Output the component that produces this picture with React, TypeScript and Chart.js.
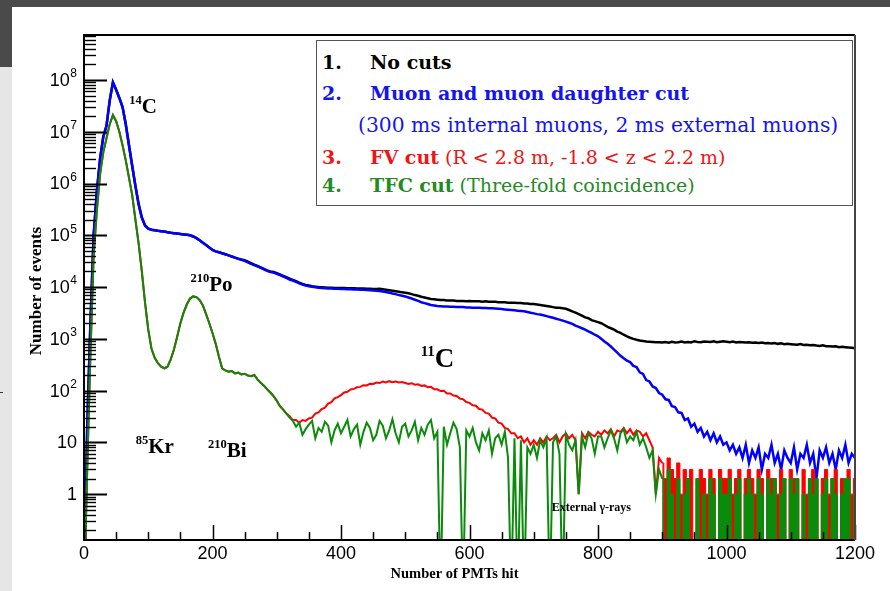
import React, { useEffect, useRef } from "react";
import { Chart, registerables } from "chart.js";

Chart.register(...registerables);

// ---------- data ----------
// histogram bins: number of PMTs hit (bin width 5)
const bins: number[] = Array.from({ length: 241 }, (_, i) => i * 5);

const noCuts = [
  0, 20, 2000, 100000, 700000, 3e6, 8e6, 1.3e7, 4e7, 9e7, 6.5e7, 4.5e7, 3e7, 1.4e7, 5.5e6, 2.2e6, 9e5, 4e5, 2.2e5, 1.55e5,
  1.35e5, 1.28e5, 1.25e5, 1.22e5, 1.2e5, 1.18e5, 1.15e5, 1.12e5, 1.1e5, 1.08e5, 1.06e5, 1.04e5, 1.02e5, 1e5, 9.5e4, 8.8e4, 8e4, 7.2e4, 6.5e4, 5.8e4,
  5.2e4, 4.9e4, 4.7e4, 4.5e4, 4.3e4, 4.1e4, 3.9e4, 3.7e4, 3.55e4, 3.4e4, 3.3e4, 3.1e4, 2.9e4, 2.7e4, 2.55e4, 2.4e4, 2.25e4, 2.1e4, 2e4, 1.95e4,
  1.85e4, 1.75e4, 1.65e4, 1.55e4, 1.45e4, 1.38e4, 1.3e4, 1.22e4, 1.15e4, 1.1e4, 1.07e4, 1.04e4, 1.02e4, 1e4, 9.9e3, 9.8e3, 9.7e3, 9.7e3, 9.6e3, 9.6e3,
  9.6e3, 9.6e3, 9.5e3, 9.5e3, 9.5e3, 9.4e3, 9.4e3, 9.4e3, 9.3e3, 9.3e3, 9.2e3, 9.2e3, 9.3e3, 9.1e3, 8.9e3, 8.7e3, 8.5e3, 8.3e3, 8.1e3, 7.9e3,
  7.8e3, 7.6e3, 7.3e3, 7e3, 6.8e3, 6.5e3, 6.3e3, 6.1e3, 5.9e3, 5.8e3, 5.7e3, 5.6e3, 5.6e3, 5.5e3, 5.5e3, 5.5e3, 5.4e3, 5.4e3, 5.4e3, 5.3e3,
  5.4e3, 5.3e3, 5.3e3, 5.3e3, 5.2e3, 5.3e3, 5.2e3, 5.2e3, 5.2e3, 5.1e3, 5.1e3, 5.1e3, 5e3, 5e3, 5e3, 4.9e3, 4.9e3, 4.8e3, 4.8e3, 4.7e3,
  4.7e3, 4.6e3, 4.5e3, 4.4e3, 4.3e3, 4.2e3, 4.1e3, 4e3, 4e3, 3.9e3, 3.8e3, 3.6e3, 3.4e3, 3.2e3, 3e3, 2.8e3, 2.6e3, 2.5e3, 2.3e3, 2.2e3,
  2.1e3, 2e3, 1.85e3, 1.7e3, 1.6e3, 1.5e3, 1.38e3, 1.3e3, 1.2e3, 1.12e3, 1.05e3, 1e3, 960, 930, 910, 890, 880, 870, 860, 860,
  850, 870, 840, 880, 850, 860, 890, 850, 870, 850, 900, 870, 860, 890, 880, 870, 900, 860, 880, 900,
  880, 860, 890, 850, 870, 860, 850, 860, 840, 850, 830, 850, 820, 830, 810, 830, 800, 820, 790, 800,
  790, 780, 770, 790, 760, 770, 750, 760, 740, 730, 750, 720, 720, 710, 720, 690, 700, 690, 680, 670,
  660,
];

const muonCut = [
  0, 20, 2000, 100000, 700000, 3e6, 8e6, 1.3e7, 4e7, 9e7, 6.5e7, 4.5e7, 3e7, 1.4e7, 5.5e6, 2.2e6, 9e5, 4e5, 2.2e5, 1.55e5,
  1.35e5, 1.28e5, 1.25e5, 1.22e5, 1.2e5, 1.18e5, 1.15e5, 1.12e5, 1.1e5, 1.08e5, 1.06e5, 1.04e5, 1.02e5, 1e5, 9.5e4, 8.8e4, 8e4, 7.2e4, 6.5e4, 5.8e4,
  5.2e4, 4.9e4, 4.7e4, 4.5e4, 4.3e4, 4.1e4, 3.9e4, 3.7e4, 3.5e4, 3.35e4, 3.2e4, 3e4, 2.8e4, 2.65e4, 2.5e4, 2.35e4, 2.2e4, 2.05e4, 1.95e4, 1.9e4,
  1.8e4, 1.7e4, 1.6e4, 1.5e4, 1.4e4, 1.33e4, 1.26e4, 1.18e4, 1.12e4, 1.07e4, 1.04e4, 1.01e4, 9.9e3, 9.7e3, 9.6e3, 9.5e3, 9.4e3, 9.4e3, 9.3e3, 9.3e3,
  9.2e3, 9.2e3, 9.1e3, 9.1e3, 9e3, 9e3, 8.9e3, 8.9e3, 8.8e3, 8.7e3, 8.6e3, 8.5e3, 8.4e3, 8.2e3, 8e3, 7.8e3, 7.5e3, 7.3e3, 7e3, 6.8e3,
  6.6e3, 6.3e3, 6e3, 5.7e3, 5.4e3, 5.1e3, 4.9e3, 4.7e3, 4.5e3, 4.4e3, 4.3e3, 4.25e3, 4.2e3, 4.2e3, 4.15e3, 4.15e3, 4.1e3, 4.1e3, 4.1e3, 4.05e3,
  4.05e3, 4e3, 4e3, 4e3, 3.95e3, 3.95e3, 3.9e3, 3.9e3, 3.85e3, 3.8e3, 3.75e3, 3.7e3, 3.65e3, 3.6e3, 3.55e3, 3.5e3, 3.45e3, 3.4e3, 3.3e3, 3.2e3,
  3.1e3, 3e3, 2.95e3, 2.85e3, 2.75e3, 2.65e3, 2.55e3, 2.45e3, 2.35e3, 2.25e3, 2.15e3, 2.05e3, 1.95e3, 1.8e3, 1.7e3, 1.6e3, 1.5e3, 1.4e3, 1.3e3, 1.2e3,
  1120, 1000, 890, 800, 710, 620, 540, 470, 420, 380, 355, 300, 285, 225, 210, 160, 150, 120, 112, 90,
  83, 68, 66, 50, 48, 38, 37, 27, 29, 20, 23, 16, 19, 13, 16, 11, 15, 10, 13, 9,
  10, 7, 9, 6, 8, 5, 9, 4, 7, 5, 8, 3, 6, 5, 9, 4, 6, 3, 7, 5,
  4, 8, 3, 6, 5, 9, 4, 6, 2, 7, 5, 8, 4, 6, 3, 7, 5, 9, 4, 6,
  5,
];

const fvCut = [
  0, 3, 500, 40000, 300000, 1.5e6, 4e6, 7.5e6, 1.4e7, 2.1e7, 1.6e7, 1e7, 5.5e6, 2.8e6, 1.3e6, 6e5, 2e5, 7e4, 2e4, 5e3,
  1500, 650, 430, 340, 290, 270, 290, 400, 620, 1100, 2000, 3200, 4600, 6000, 6600, 6400, 5600, 4400, 3000, 2000,
  1300, 800, 450, 270, 245, 232, 238, 215, 222, 205, 212, 196, 190, 200, 165, 142, 125, 106, 92, 78,
  64, 50, 43, 36, 32, 27, 27, 24, 27, 26, 29, 30, 36, 38, 44, 47, 56, 60, 71, 75,
  82, 92, 95, 105, 108, 116, 118, 127, 126, 135, 134, 143, 140, 150, 144, 152, 145, 149, 143, 146,
  140, 134, 139, 130, 133, 123, 126, 116, 118, 106, 106, 98, 99, 88, 88, 80, 79, 70, 68, 60,
  58, 52, 51, 44, 43, 37, 36, 30, 29, 24, 23, 19, 18, 15, 15, 12, 13, 10, 12, 9,
  11, 9, 12, 10, 13, 11, 12, 14, 10, 13, 15, 12, 14, 11, 1, 15, 12, 16, 14, 13,
  16, 14, 17, 15, 18, 13, 17, 16, 19, 15, 18, 14, 17, 16, 13, 15, 11, 8, 1, 5,
  4, 2, 5, 3, 2, 4, 1, 3, 2, 3, 0, 2, 3, 2, 1, 3, 2, 0, 3, 2,
  2, 3, 1, 2, 3, 0, 2, 3, 2, 1, 3, 2, 0, 3, 2, 2, 1, 3, 2, 0,
  3, 2, 2, 0, 3, 1, 2, 3, 2, 0, 2, 3, 1, 2, 3, 0, 2, 2, 3, 1,
  2,
];

const tfcCut = [
  0, 3, 500, 40000, 300000, 1.5e6, 4e6, 7.5e6, 1.4e7, 2.1e7, 1.6e7, 1e7, 5.5e6, 2.8e6, 1.3e6, 6e5, 2e5, 7e4, 2e4, 5e3,
  1500, 650, 430, 340, 290, 270, 290, 400, 620, 1100, 2000, 3200, 4600, 6000, 6600, 6400, 5600, 4400, 3000, 2000,
  1300, 800, 450, 270, 245, 232, 238, 215, 222, 205, 212, 196, 190, 200, 165, 142, 125, 106, 92, 78,
  64, 50, 43, 36, 30, 26, 20, 24, 14, 18, 22, 26, 12, 19, 16, 25, 21, 10, 17, 23,
  15, 20, 27, 13, 18, 22, 9, 16, 24, 19, 11, 14, 26, 21, 12, 17, 28, 15, 10, 20,
  23, 13, 17, 25, 11, 19, 14, 22, 27, 12, 16, 0, 20, 9, 15, 24, 18, 8, 0, 17,
  13, 19, 10, 7, 15, 11, 17, 6, 12, 14, 9, 16, 5, 0, 12, 0, 11, 0, 8, 6,
  9, 5, 11, 8, 12, 0, 10, 13, 6, 0, 14, 9, 7, 11, 1, 13, 8, 15, 12, 6,
  13, 13, 8, 12, 17, 12, 7, 15, 18, 10, 13, 11, 16, 9, 12, 8, 5, 7, 1, 3,
  2, 0, 3, 1, 0, 2, 0, 1, 2, 0, 0, 2, 0, 1, 0, 2, 1, 0, 2, 1,
  1, 2, 0, 1, 2, 0, 1, 2, 1, 0, 2, 1, 0, 2, 1, 2, 0, 1, 2, 0,
  2, 1, 2, 0, 1, 0, 2, 1, 2, 0, 1, 2, 0, 2, 1, 0, 1, 2, 2, 0,
  1,
];

const xTickLabels = [0, 200, 400, 600, 800, 1000, 1200];
const yDecades = [0, 1, 2, 3, 4, 5, 6, 7, 8];

const annotations = [
  { sup: "14", main: "C", x: 90, y: 2.3e7, size: 21, supSize: 12.5 },
  { sup: "210", main: "Po", x: 195, y: 8.5e3, size: 21, supSize: 12.5 },
  { sup: "85", main: "Kr", x: 100, y: 6.2, size: 21, supSize: 12.5 },
  { sup: "210", main: "Bi", x: 222, y: 5.2, size: 21, supSize: 12.5 },
  { sup: "11", main: "C", x: 546, y: 286, size: 27, supSize: 15 },
  { sup: "", main: "External \u03b3-rays", x: 728, y: 0.47, size: 12, supSize: 0 },
];

const legendRows = [
  { num: "1.", bold: "No cuts", rest: "", color: "#000000", top: 62, left: 370, size: 19 },
  { num: "2.", bold: "Muon and muon daughter cut", rest: "", color: "#1414f0", top: 93, left: 370, size: 19 },
  { num: "", bold: "", rest: "(300 ms internal muons, 2 ms external muons)", color: "#1414f0", top: 125, left: 358, size: 20.3 },
  { num: "3.", bold: "FV cut", rest: " (R < 2.8 m, -1.8 < z < 2.2 m)", color: "#f01414", top: 157, left: 370, size: 19 },
  { num: "4.", bold: "TFC cut", rest: " (Three-fold coincidence)", color: "#238b23", top: 185, left: 370, size: 19 },
];

const COLORS = { black: "#000000", blue: "#0000ff", red: "#ff0000", green: "#0b8b0b" };
const LOG_FLOOR = 0.01; // empty bins are drawn below the axis (log scale cannot show 0)
const TAIL_START = 900; // beyond this, sparse bins are drawn as filled histogram columns

const SANS = '"Liberation Sans", Arial, sans-serif';
const SERIF = '"Liberation Serif", "Times New Roman", serif';
const LEGEND_FONT = '"DejaVu Serif", serif';

const rootFrame = {
  id: "rootFrame",
  afterDatasetsDraw(chart: any) {
    const { ctx, chartArea: a, scales } = chart;
    const xs = scales.x;
    const ys = scales.y;
    ctx.save();
    ctx.strokeStyle = "#000";
    // y ticks (major + minor, inside)
    for (let d = -1; d <= 8; d++) {
      for (let k = 1; k <= 9; k++) {
        const v = k * Math.pow(10, d);
        if (v < ys.min || v > ys.max) continue;
        const py = Math.round(ys.getPixelForValue(v)) + 0.5;
        ctx.lineWidth = k === 1 ? 2 : 1.4;
        ctx.beginPath();
        ctx.moveTo(a.left, py);
        ctx.lineTo(a.left + (k === 1 ? 23 : 12), py);
        ctx.stroke();
      }
    }
    // x ticks
    for (let v = 0; v <= 1200; v += 50) {
      const px = Math.round(xs.getPixelForValue(v)) + 0.5;
      const len = v % 200 === 0 ? 15 : 8;
      ctx.lineWidth = 1.5;
      ctx.beginPath();
      ctx.moveTo(px, a.bottom);
      ctx.lineTo(px, a.bottom - len);
      ctx.stroke();
    }
    // frame
    ctx.lineWidth = 2;
    ctx.strokeStyle = "#000";
    ctx.beginPath();
    ctx.moveTo(a.right, a.top);
    ctx.lineTo(a.left, a.top);
    ctx.lineTo(a.left, a.bottom);
    ctx.lineTo(a.right, a.bottom);
    ctx.stroke();
    ctx.strokeStyle = "#444";
    ctx.beginPath();
    ctx.moveTo(a.right, a.top);
    ctx.lineTo(a.right, a.bottom);
    ctx.stroke();

    // y tick labels
    ctx.fillStyle = "#000";
    ctx.textBaseline = "middle";
    ctx.textAlign = "right";
    const labelRight = a.left - 7;
    for (const d of yDecades) {
      const py = ys.getPixelForValue(Math.pow(10, d)) + 1;
      if (d <= 1) {
        ctx.font = `18px ${SANS}`;
        ctx.fillText(d === 0 ? "1" : "10", labelRight, py);
      } else {
        ctx.font = `12px ${SANS}`;
        const sup = String(d);
        const w = ctx.measureText(sup).width;
        ctx.fillText(sup, labelRight, py - 7);
        ctx.font = `18px ${SANS}`;
        ctx.fillText("10", labelRight - w - 0.5, py);
      }
    }
    // x tick labels
    ctx.textAlign = "center";
    ctx.font = `18px ${SANS}`;
    for (const v of xTickLabels) {
      ctx.fillText(String(v), xs.getPixelForValue(v), a.bottom + 14);
    }
    // axis titles
    ctx.font = `bold 14.5px ${SERIF}`;
    ctx.fillText("Number of PMTs hit", (a.left + a.right) / 2 - 15, a.bottom + 34);
    ctx.save();
    ctx.translate(37, 291);
    ctx.rotate(-Math.PI / 2);
    ctx.font = `bold 17px ${SERIF}`;
    ctx.fillText("Number of events", 0, 0);
    ctx.restore();

    // annotations
    ctx.textBaseline = "alphabetic";
    for (const an of annotations) {
      const px = xs.getPixelForValue(an.x);
      const py = ys.getPixelForValue(an.y);
      ctx.textAlign = "left";
      ctx.font = `bold ${an.size}px ${SERIF}`;
      ctx.fillText(an.main, px, py);
      if (an.sup) {
        ctx.textAlign = "right";
        ctx.font = `bold ${an.supSize}px ${SERIF}`;
        ctx.fillText(an.sup, px, py - an.size * 0.42);
      }
    }
    ctx.restore();
  },
};

type Part = "all" | "main" | "tail";

function makeSet(label: string, values: number[], color: string, order: number, width: number, part: Part) {
  const pts = bins
    .map((x, i) => ({ x, y: values[i] > 0 ? values[i] : LOG_FLOOR }))
    .filter((p) => (part === "main" ? p.x <= TAIL_START : part === "tail" ? p.x >= TAIL_START : true));
  return {
    label,
    data: pts,
    borderColor: color,
    backgroundColor: part === "tail" ? color : "rgba(0,0,0,0)",
    borderWidth: part === "tail" ? 1 : width,
    pointRadius: 0,
    tension: 0,
    stepped: part === "tail" ? "middle" : false,
    order,
    fill: part === "tail" ? "start" : false,
  } as any;
}

export default function App() {
  const ref = useRef<HTMLCanvasElement>(null);

  useEffect(() => {
    const canvas = ref.current;
    if (!canvas) return;
    const chart = new Chart(canvas, {
      type: "line",
      data: {
        datasets: [
          makeSet("No cuts", noCuts, COLORS.black, 5, 2.5, "all"),
          makeSet("Muon and muon daughter cut", muonCut, COLORS.blue, 4, 2.5, "all"),
          makeSet("FV cut", fvCut, COLORS.red, 3, 2, "main"),
          makeSet("FV cut (tail)", fvCut, COLORS.red, 2, 2, "tail"),
          makeSet("TFC cut", tfcCut, COLORS.green, 1, 2, "main"),
          makeSet("TFC cut (tail)", tfcCut, COLORS.green, 0, 2, "tail"),
        ],
      },
      options: {
        responsive: false,
        animation: false,
        events: [],
        layout: { padding: { left: 84, right: 35, top: 35, bottom: 51 } },
        plugins: { legend: { display: false }, tooltip: { enabled: false } },
        scales: {
          x: { type: "linear", min: 0, max: 1200, display: false },
          y: { type: "logarithmic", min: 0.13, max: 7.4e8, display: false },
        },
      } as any,
      plugins: [rootFrame],
    });
    return () => chart.destroy();
  }, []);

  return (
    <div style={{ position: "fixed", left: 0, top: 0, width: 890, height: 591, background: "#fff", overflow: "hidden" }}>
      <div style={{ position: "absolute", left: 0, top: 0, width: 890, height: 7, background: "#4a4a4a" }} />
      <div style={{ position: "absolute", left: 0, top: 0, width: 12, height: 67, background: "#4a4a4a" }} />
      <div style={{ position: "absolute", left: 0, top: 67, width: 12, height: 524, background: "#e6e6e6" }} />
      <div style={{ position: "absolute", left: 0, top: 392, width: 3, height: 1, background: "#333" }} />
      <canvas ref={ref} width={890} height={591} style={{ position: "absolute", left: 0, top: 0, width: 890, height: 591 }} />
      <div
        style={{
          position: "absolute",
          left: 316,
          top: 40,
          width: 535,
          height: 164,
          border: "1.5px solid #555",
          background: "#fff",
        }}
      />
      {legendRows.map((r, i) => (
        <React.Fragment key={i}>
          {r.num && (
            <div
              style={{
                position: "absolute",
                left: 322,
                top: r.top - 13,
                height: 26,
                lineHeight: "26px",
                fontFamily: LEGEND_FONT,
                fontWeight: "bold",
                fontSize: 19,
                color: r.color,
                whiteSpace: "nowrap",
              }}
            >
              {r.num}
            </div>
          )}
          <div
            style={{
              position: "absolute",
              left: r.left,
              top: r.top - 13,
              height: 26,
              lineHeight: "26px",
              fontFamily: LEGEND_FONT,
              fontSize: r.size,
              color: r.color,
              whiteSpace: "nowrap",
            }}
          >
            {r.bold && <span style={{ fontWeight: "bold", fontSize: 19 }}>{r.bold}</span>}
            {r.rest}
          </div>
        </React.Fragment>
      ))}
    </div>
  );
}
